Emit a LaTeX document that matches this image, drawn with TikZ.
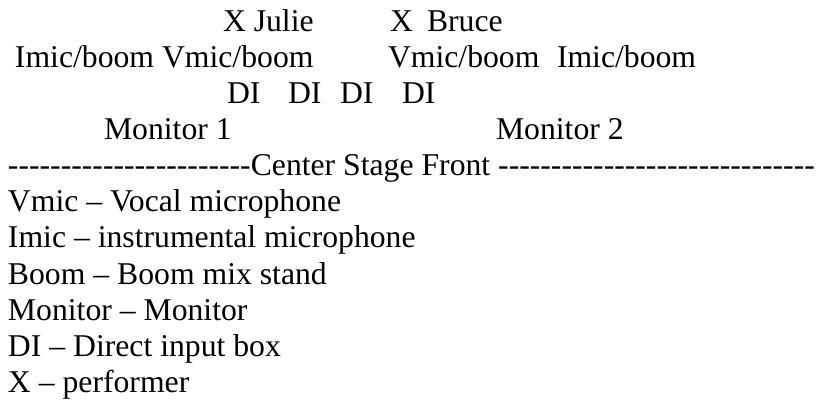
\documentclass[tikz,border=0pt]{standalone}
\usepackage{fontspec}
\setmainfont{Liberation Serif}[Ligatures=TeXOff]
\begin{document}
\begin{tikzpicture}[x=1pt,y=-1pt,
  txt/.style={anchor=base west, inner sep=0pt, outer sep=0pt, font=\fontsize{31.7}{36}\selectfont}]
\useasboundingbox (0,0) rectangle (817,406);
% row 1
\node[txt] (julie) at (223,32) {X Julie};
\node[txt] (bx) at (390,32) {X};
\node[txt] (bruce) at (427,32) {Bruce};
% row 2
\node[txt] (mics1) at (15,68) {Imic/boom Vmic/boom};
\node[txt] (vm2) at (388,68) {Vmic/boom};
\node[txt] (im2) at (557,68) {Imic/boom};
% row 3
\node[txt] (di1) at (227,104) {DI};
\node[txt] (di2) at (288,104) {DI};
\node[txt] (di3) at (340,104) {DI};
\node[txt] (di4) at (402,104) {DI};
% row 4
\node[txt] (mon1) at (104,140) {Monitor 1};
\node[txt] (mon2) at (496,140) {Monitor 2};
% row 5
\node[txt] (front) at (8,176) {-----------------------Center Stage Front ------------------------------};
% legend
\node[txt] (l1) at (8,212) {Vmic – Vocal microphone};
\node[txt] (l2) at (8,248) {Imic – instrumental microphone};
\node[txt] (l3) at (8,284) {Boom – Boom mix stand};
\node[txt] (l4) at (8,320) {Monitor – Monitor};
\node[txt] (l5) at (8,356) {DI – Direct input box};
\node[txt] (l6) at (8,392) {X – performer};
\end{tikzpicture}
\end{document}
